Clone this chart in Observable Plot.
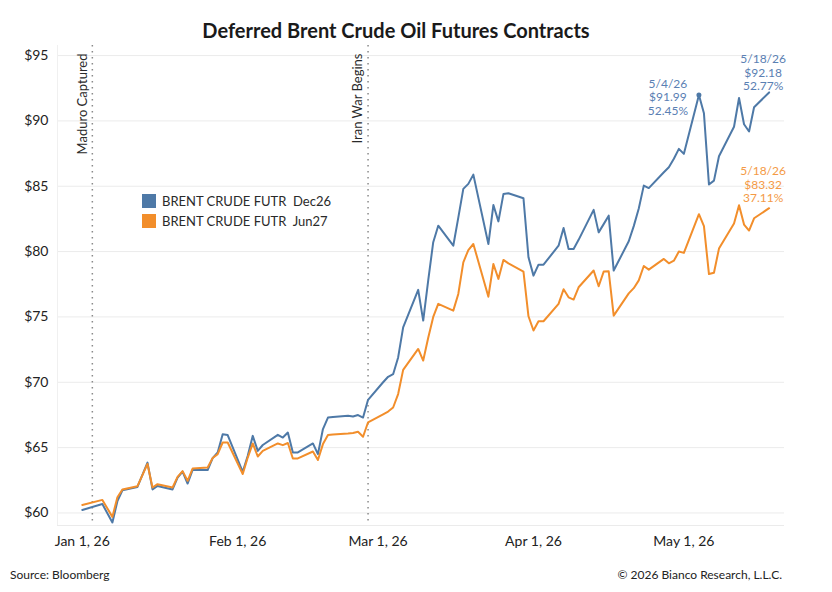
<!DOCTYPE html>
<html>
<head>
<meta charset="utf-8">
<script src="https://cdn.jsdelivr.net/npm/d3@7"></script>
<script src="https://cdn.jsdelivr.net/npm/@observablehq/plot@0.6"></script>
<style>
  body { margin: 0; background: #fff; font-family: Lato, "Open Sans", sans-serif; }
  #wrap { position: relative; width: 832px; height: 592px; overflow: hidden; }
  #chart { position: absolute; left: 0; top: 0; }
  #title { position: absolute; left: 0; top: 18px; width: 792px; text-align: center; font-weight: bold; font-size: 20px; line-height: 24px; color: #1a1a1a; }
  .foot { position: absolute; top: 568px; font-size: 12px; line-height: 14px; color: #222; }
  #legend { position: absolute; left: 142px; top: 191px; font-size: 13px; color: #2a2a2a; }
  .lrow { display: flex; align-items: center; height: 20px; white-space: pre; }
  .sw { width: 14px; height: 14px; margin-right: 6px; }
</style>
</head>
<body>
<div id="wrap">
  <div id="chart"></div>
  <div id="title"></div>
  <div id="legend"></div>
  <div class="foot" id="src" style="left:10px"></div>
  <div class="foot" id="copy" style="right:50px"></div>
</div>
<script>
// ---------- data ----------
const titleText = "Deferred Brent Crude Oil Futures Contracts";
const sourceText = "Source: Bloomberg";
const copyText = "© 2026 Bianco Research, L.L.C.";
const seriesNames = ["BRENT CRUDE FUTR  Dec26", "BRENT CRUDE FUTR  Jun27"];
const seriesColors = ["#4e79a7", "#f28e2b"];

const dates = [
  "2026-01-01","2026-01-05","2026-01-07","2026-01-08","2026-01-09","2026-01-12","2026-01-14","2026-01-15","2026-01-16",
  "2026-01-19","2026-01-20","2026-01-21","2026-01-22","2026-01-23","2026-01-26","2026-01-27","2026-01-28","2026-01-29","2026-01-30",
  "2026-02-02","2026-02-03","2026-02-04","2026-02-05","2026-02-06","2026-02-09","2026-02-10","2026-02-11","2026-02-12","2026-02-13",
  "2026-02-16","2026-02-17","2026-02-18","2026-02-19","2026-02-20","2026-02-23","2026-02-24","2026-02-25","2026-02-26","2026-02-27",
  "2026-03-02","2026-03-03","2026-03-04","2026-03-05","2026-03-06","2026-03-09","2026-03-10","2026-03-11","2026-03-12","2026-03-13",
  "2026-03-16","2026-03-17","2026-03-18","2026-03-19","2026-03-20","2026-03-23","2026-03-24","2026-03-25","2026-03-26","2026-03-27",
  "2026-03-30","2026-03-31","2026-04-01","2026-04-02","2026-04-03","2026-04-06","2026-04-07","2026-04-08","2026-04-09","2026-04-10",
  "2026-04-13","2026-04-14","2026-04-15","2026-04-16","2026-04-17","2026-04-20","2026-04-21","2026-04-22","2026-04-23","2026-04-24",
  "2026-04-27","2026-04-28","2026-04-29","2026-04-30","2026-05-01","2026-05-04","2026-05-05","2026-05-06","2026-05-07","2026-05-08",
  "2026-05-11","2026-05-12","2026-05-13","2026-05-14","2026-05-15","2026-05-18"
];
const dec26 = [
  60.23,60.68,59.27,60.90,61.74,61.99,63.85,61.80,62.07,
  61.80,62.70,63.17,62.25,63.30,63.28,64.20,64.63,66.03,65.96,
  63.15,64.37,65.90,64.75,65.20,65.98,65.77,66.15,64.63,64.63,
  65.32,64.50,66.42,67.30,67.35,67.44,67.38,67.49,67.30,68.66,
  70.00,70.42,70.62,71.90,74.20,77.07,74.72,77.80,80.72,81.98,
  80.45,82.60,84.80,85.18,85.89,80.58,83.56,82.31,84.40,84.46,
  84.08,79.56,78.16,79.00,79.00,80.45,81.80,80.20,80.20,80.90,
  83.19,81.47,82.10,82.75,78.55,80.79,81.95,83.30,85.05,84.86,
  86.07,86.45,87.10,87.86,87.48,91.99,90.58,85.13,85.43,87.30,
  89.55,91.75,89.74,89.19,91.04,92.18
];
const jun27 = [
  60.61,61.00,59.70,61.20,61.80,62.05,63.75,61.95,62.20,
  61.95,62.76,63.20,62.46,63.40,63.48,64.20,64.50,65.39,65.39,
  62.98,64.24,65.32,64.32,64.75,65.32,65.19,65.35,64.17,64.17,
  64.70,64.05,65.27,65.96,66.00,66.08,66.12,66.21,65.83,66.94,
  67.55,67.76,68.07,69.10,70.95,72.55,71.66,73.40,75.00,76.00,
  75.48,76.76,79.18,80.12,80.58,76.55,79.05,77.91,79.36,79.10,
  78.47,75.05,73.96,74.67,74.67,76.00,77.12,76.50,76.33,77.27,
  78.55,77.35,78.47,78.49,75.10,76.80,77.20,77.80,78.90,78.62,
  79.44,79.10,79.30,80.00,79.90,82.86,81.95,78.28,78.38,80.23,
  82.15,83.55,82.07,81.61,82.55,83.32
];

const yTicks = [60, 65, 70, 75, 80, 85, 90, 95];
const xTicks = ["2026-01-01","2026-02-01","2026-03-01","2026-04-01","2026-05-01"];
const eventDates = ["2026-01-03","2026-02-27"];
const eventLabels = ["Maduro Captured","Iran War Begins"];

const annotDates = ["2026-05-04","2026-05-18","2026-05-18"];
const annotValues = [91.99, 92.18, 83.32];
const annotLabels = ["5/4/26\n$91.99\n52.45%", "5/18/26\n$92.18\n52.77%", "5/18/26\n$83.32\n37.11%"];
const annotColors = ["#5a80b3", "#5a80b3", "#f49a45"];

// ---------- build ----------
const D = s => new Date(s + "T00:00:00Z");
const rows = [];
dates.forEach((d, i) => {
  rows.push({date: D(d), value: dec26[i], series: seriesNames[0]});
  rows.push({date: D(d), value: jun27[i], series: seriesNames[1]});
});
const DAY = 864e5;
const t0 = Date.UTC(2026, 0, 1);
const xDomain = [new Date(t0 - 4.95 * DAY), new Date(t0 + 140.07 * DAY)];
const yDomain = [59.04, 95.77];

const annotMark = (i, dx, dy) => Plot.text([i], {
  x: j => D(annotDates[j]), y: j => annotValues[j], text: j => annotLabels[j],
  fill: annotColors[i], fontSize: 12, lineHeight: 1.13, textAnchor: "middle", lineAnchor: "middle",
  dx, dy
});

const chart = Plot.plot({
  width: 832,
  height: 592,
  marginLeft: 57,
  marginRight: 48,
  marginTop: 45,
  marginBottom: 67,
  style: {fontFamily: "Lato, 'Open Sans', sans-serif", background: "transparent", color: "#333"},
  x: {type: "utc", domain: xDomain, ticks: xTicks.map(D), tickFormat: d3.utcFormat("%b %-d, %y"), tickSize: 0, tickPadding: 11, label: null},
  y: {domain: yDomain, ticks: yTicks, tickFormat: d => "$" + d, tickSize: 0, tickPadding: 9, label: null},
  marks: [
    Plot.gridY(yTicks, {stroke: "#ebebeb", strokeOpacity: 1}),
    Plot.ruleY([yDomain[0]], {stroke: "#ebebeb"}),
    Plot.ruleX([xDomain[0]], {stroke: "#f0f0f0"}),
    Plot.ruleX(eventDates.map(D), {stroke: "#8a8a8a", strokeWidth: 1.5, strokeDasharray: "1.5,4.5"}),
    Plot.text(eventDates.map((d, i) => i), {
      x: i => D(eventDates[i]), frameAnchor: "top", text: i => eventLabels[i],
      rotate: -90, textAnchor: "end", lineAnchor: "middle", dx: -10, dy: 8, fontSize: 13, fill: "#2a2a2a"
    }),
    Plot.line(rows, {x: "date", y: "value", z: "series", stroke: "series", strokeWidth: 2, curve: "linear"}),
    Plot.dot([0], {x: i => D(annotDates[i]), y: i => annotValues[i], r: 2.5, fill: seriesColors[0]}),
    annotMark(0, -31, 2),
    annotMark(1, -6, -20),
    annotMark(2, -6, -24),
    Plot.axisX({ticks: xTicks.map(D), tickFormat: d3.utcFormat("%b %-d, %y"), tickSize: 0, tickPadding: 11, fontSize: 14, fill: "#222"}),
    Plot.axisY({ticks: yTicks, tickFormat: d => "$" + d, tickSize: 0, tickPadding: 9, fontSize: 14, fill: "#222"})
  ],
  color: {domain: seriesNames, range: seriesColors}
});
document.getElementById("chart").appendChild(chart);

document.getElementById("title").textContent = titleText;
document.getElementById("src").textContent = sourceText;
document.getElementById("copy").textContent = copyText;
const legend = document.getElementById("legend");
seriesNames.forEach((n, i) => {
  const r = document.createElement("div");
  r.className = "lrow";
  const s = document.createElement("div");
  s.className = "sw";
  s.style.background = seriesColors[i];
  const t = document.createElement("span");
  t.textContent = n;
  r.appendChild(s); r.appendChild(t);
  legend.appendChild(r);
});
</script>
</body>
</html>
